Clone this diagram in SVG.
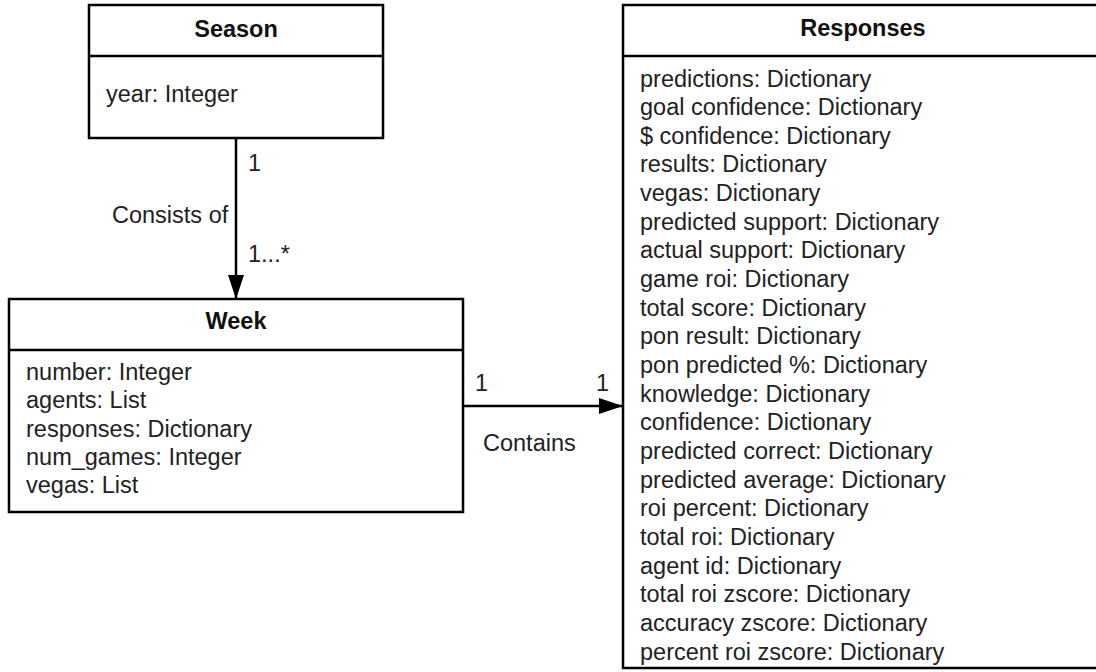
<svg xmlns="http://www.w3.org/2000/svg" width="1096" height="672" viewBox="0 0 1096 672">
<style>
.box{fill:#fff;stroke:#000;stroke-width:2.5}
.sep{stroke:#000;stroke-width:2.5}
.title{font-family:"Liberation Sans",Arial,sans-serif;font-size:23.5px;font-weight:bold;fill:#111;text-anchor:middle}
.attr{font-family:"Liberation Sans",Arial,sans-serif;font-size:23.5px;fill:#222}
.lbl{font-family:"Liberation Sans",Arial,sans-serif;font-size:23.5px;fill:#222}
.conn{stroke:#000;stroke-width:2.5;fill:none}
</style>
<defs>
<marker id="arrow" markerWidth="24" markerHeight="16" refX="24" refY="8" orient="auto" markerUnits="userSpaceOnUse" viewBox="0 0 24 16">
<path d="M0,0 L24,8 L0,16 Z" fill="#000"/>
</marker>
</defs>
<rect width="1096" height="672" fill="#fff"/>

<g id="connectors">
<line class="conn" x1="236" y1="138" x2="236" y2="299" marker-end="url(#arrow)"/>
<line class="conn" x1="463" y1="406" x2="623" y2="406" marker-end="url(#arrow)"/>
<text class="lbl" x="248" y="171">1</text>
<text class="lbl" x="112" y="223">Consists of</text>
<text class="lbl" x="248" y="262">1...*</text>
<text class="lbl" x="475" y="391">1</text>
<text class="lbl" x="596" y="391">1</text>
<text class="lbl" x="483" y="451">Contains</text>
</g>

<g id="season">
<rect class="box" x="89" y="5" width="294" height="133"/>
<line class="sep" x1="89" y1="56" x2="383" y2="56"/>
<text class="title" x="236" y="37">Season</text>
<text class="attr" x="106" y="102">year: Integer</text>
</g>

<g id="week">
<rect class="box" x="9" y="299" width="454" height="213"/>
<line class="sep" x1="9" y1="350" x2="463" y2="350"/>
<text class="title" x="236" y="329">Week</text>
<text class="attr" x="26" y="380">number: Integer</text>
<text class="attr" x="26" y="408.3">agents: List</text>
<text class="attr" x="26" y="436.6">responses: Dictionary</text>
<text class="attr" x="26" y="464.9">num_games: Integer</text>
<text class="attr" x="26" y="493.2">vegas: List</text>
</g>

<g id="responses">
<rect class="box" x="623" y="5" width="480" height="663"/>
<line class="sep" x1="623" y1="56" x2="1103" y2="56"/>
<text class="title" x="863" y="36">Responses</text>
<text class="attr" x="640" y="86.5">predictions: Dictionary</text>
<text class="attr" x="640" y="115.1">goal confidence: Dictionary</text>
<text class="attr" x="640" y="143.8">$ confidence: Dictionary</text>
<text class="attr" x="640" y="172.4">results: Dictionary</text>
<text class="attr" x="640" y="201.1">vegas: Dictionary</text>
<text class="attr" x="640" y="229.7">predicted support: Dictionary</text>
<text class="attr" x="640" y="258.4">actual support: Dictionary</text>
<text class="attr" x="640" y="287">game roi: Dictionary</text>
<text class="attr" x="640" y="315.7">total score: Dictionary</text>
<text class="attr" x="640" y="344.3">pon result: Dictionary</text>
<text class="attr" x="640" y="373">pon predicted %: Dictionary</text>
<text class="attr" x="640" y="401.6">knowledge: Dictionary</text>
<text class="attr" x="640" y="430.3">confidence: Dictionary</text>
<text class="attr" x="640" y="458.9">predicted correct: Dictionary</text>
<text class="attr" x="640" y="487.6">predicted average: Dictionary</text>
<text class="attr" x="640" y="516.2">roi percent: Dictionary</text>
<text class="attr" x="640" y="544.9">total roi: Dictionary</text>
<text class="attr" x="640" y="573.5">agent id: Dictionary</text>
<text class="attr" x="640" y="602.2">total roi zscore: Dictionary</text>
<text class="attr" x="640" y="630.8">accuracy zscore: Dictionary</text>
<text class="attr" x="640" y="659.5">percent roi zscore: Dictionary</text>
</g>
</svg>
